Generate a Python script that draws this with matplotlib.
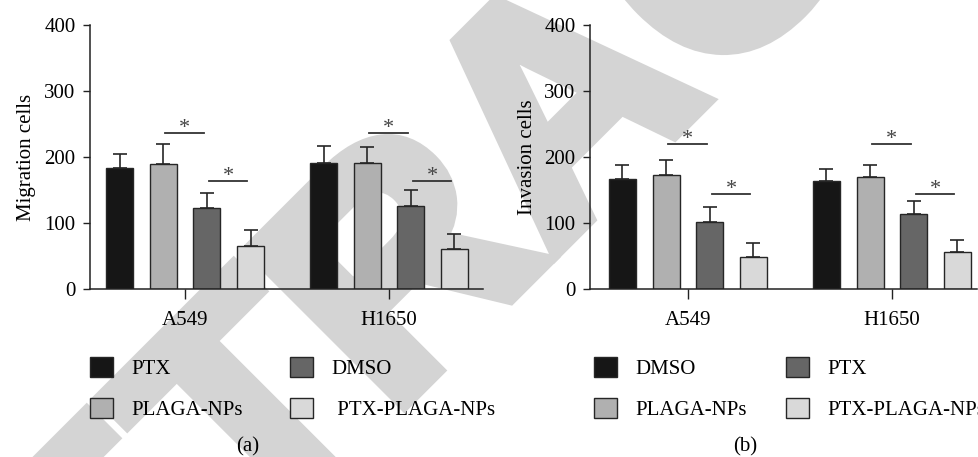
import numpy as np
import matplotlib.pyplot as plt
import matplotlib.patheffects as pe
from matplotlib.patches import Patch

plt.rcParams['font.family'] = ['Liberation Serif', 'DejaVu Serif']

groups = ['A549', 'H1650']
bar_colors = ['#161616', '#b0b0b0', '#666666', '#d9d9d9']

# panel (a): migration
mig_labels = ['PTX', 'PLAGA-NPs', 'DMSO', ' PTX-PLAGA-NPs']
mig_mean = [[184, 190, 122, 65], [191, 191, 126, 61]]
mig_err = [[21, 30, 23, 24], [26, 24, 24, 23]]
mig_sig = [237, 164]

# panel (b): invasion
inv_labels = ['DMSO', 'PLAGA-NPs', 'PTX', 'PTX-PLAGA-NPs']
inv_mean = [[167, 172, 102, 49], [164, 170, 113, 56]]
inv_err = [[21, 24, 22, 20], [18, 18, 20, 18]]
inv_sig = [219, 144]

W, H = 979, 457
edge = '#262626'
FS = 15


def draw_panel(ax, means, errs, sig, labels, ylabel, tag, xlim, leg_x, colspace):
    x = np.arange(len(groups))
    off = (np.arange(4) - 1.5) * 0.214
    for i in range(4):
        pos = x + off[i]
        vals = [m[i] for m in means]
        up = [e[i] for e in errs]
        ax.bar(pos, vals, width=0.132, color=bar_colors[i], edgecolor=edge, linewidth=1, zorder=2)
        ax.errorbar(pos, vals, yerr=[np.zeros(len(vals)), up], fmt='none', ecolor=edge,
                    elinewidth=1.2, capsize=5, capthick=1.2, zorder=1)

    # significance bars: (2nd vs 3rd) and (3rd vs 4th)
    for g in x:
        for k, y in zip([1, 2], sig):
            x1, x2 = g + off[k] + 0.01, g + off[k + 1] - 0.015
            ax.plot([x1, x2], [y, y], color='#333333', lw=1.3)
            ax.annotate('*', ((x1 + x2) / 2, y), xytext=(0, 0), textcoords='offset points',
                        ha='center', va='baseline', fontsize=16, color='#444444')

    ax.set_xlim(*xlim)
    ax.set_ylim(0, 400)
    ax.set_yticks([0, 100, 200, 300, 400])
    ax.set_xticks(x)
    ax.set_xticklabels(groups)
    for s in ['top', 'right']:
        ax.spines[s].set_visible(False)
    for s in ['left', 'bottom']:
        ax.spines[s].set_linewidth(1.1)
        ax.spines[s].set_color('#222222')
    ax.tick_params(axis='y', length=5, width=1, pad=5.5, labelsize=FS, color='#222222')
    ax.tick_params(axis='x', length=7, width=1, pad=8.5, labelsize=FS, color='#222222')
    ax.set_ylabel(ylabel, fontsize=FS)
    ax.yaxis.set_label_coords(-0.137, 0.5)
    ax.set_facecolor('none')

    handles = [Patch(facecolor=c, edgecolor=edge, linewidth=1) for c in bar_colors]
    ax.legend(handles, labels, ncol=2, loc='upper left', bbox_to_anchor=(leg_x, -0.258),
              frameon=False, fontsize=FS, handlelength=1.1, handleheight=1.1,
              handletextpad=0.9, columnspacing=colspace, labelspacing=0.9,
              borderpad=0, borderaxespad=0)
    ax.text(158 / 393, (289 - 447) / 264, tag, transform=ax.transAxes,
            ha='center', va='center', fontsize=FS)


fig = plt.figure(figsize=(W / 100, H / 100), dpi=100)

# RETRACTED watermark behind the panels
fig.text(631 / W, 1 - 176 / H, 'RETRACTED', rotation=45, rotation_mode='anchor',
         ha='center', va='baseline', fontsize=227, fontweight='bold',
         family='Liberation Sans', color='#d4d4d4', zorder=-1,
         path_effects=[pe.withStroke(linewidth=11, foreground='#d4d4d4',
                                     joinstyle='miter')])

ax1 = fig.add_axes([90 / W, 1 - 289 / H, 393 / W, 264 / H])
ax2 = fig.add_axes([590 / W, 1 - 289 / H, 387 / W, 264 / H])

draw_panel(ax1, mig_mean, mig_err, mig_sig, mig_labels, 'Migration cells', '(a)',
           (-0.466, 1.461), 0.0, 2.25)
draw_panel(ax2, inv_mean, inv_err, inv_sig, inv_labels, 'Invasion cells', '(b)',
           (-0.48, 1.417), 0.01, 1.87)

fig.savefig('out.png', dpi=100)
